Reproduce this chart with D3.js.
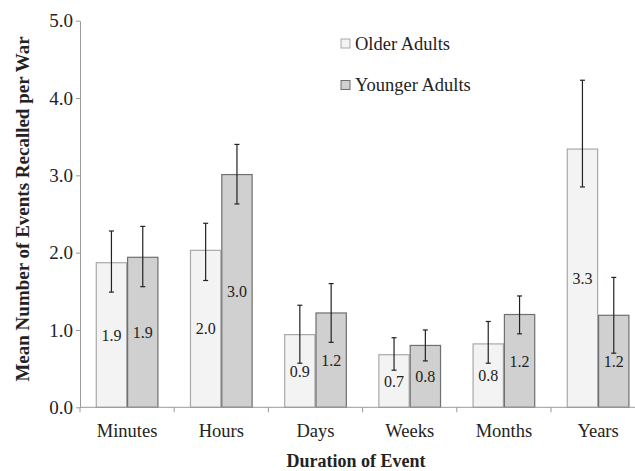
<!DOCTYPE html>
<html>
<head>
<meta charset="utf-8">
<script src="https://cdn.jsdelivr.net/npm/d3@7"></script>
<style>
  html, body { margin: 0; padding: 0; background: #fff; }
  svg text { font-family: "Liberation Serif", "Times New Roman", serif !important; }
</style>
</head>
<body>
<svg id="chart" width="635" height="471"></svg>
<script>
// Event durations and the mean number of events recalled per war
const categories = ["Minutes", "Hours", "Days", "Weeks", "Months", "Years"];
const seriesNames = ["Older Adults", "Younger Adults"];
const olderMeans = [1.87, 2.03, 0.94, 0.68, 0.82, 3.34];
const youngerMeans = [1.94, 3.01, 1.22, 0.80, 1.20, 1.19];
const olderLow = [1.49, 1.64, 0.57, 0.48, 0.57, 2.85];
const olderHigh = [2.28, 2.38, 1.32, 0.90, 1.11, 4.23];
const youngerLow = [1.56, 2.63, 0.84, 0.60, 0.95, 0.70];
const youngerHigh = [2.34, 3.40, 1.60, 1.00, 1.44, 1.68];
const yTicks = [0, 1, 2, 3, 4, 5];

const fills = ["#f3f3f3", "#cfd0cf"];
const strokes = ["#a9a9a9", "#6f6f6f"];

const svg = d3.select("#chart");
const plotLeft = 80, plotTop = 20.7, plotBottom = 407.3, step = 94.2;
const plotRight = plotLeft + step * categories.length;

const y = d3.scaleLinear().domain([0, 5]).range([plotBottom, plotTop]);
const x0 = d3.scaleBand().domain(categories).range([plotLeft, plotRight])
  .paddingInner(0.335).paddingOuter(0.1675);
const x1 = d3.scaleBand().domain(seriesNames).range([0, x0.bandwidth()]);

const rows = categories.map((c, i) => ({
  cat: c,
  values: [
    { s: seriesNames[0], v: olderMeans[i], lo: olderLow[i], hi: olderHigh[i], k: 0 },
    { s: seriesNames[1], v: youngerMeans[i], lo: youngerLow[i], hi: youngerHigh[i], k: 1 }
  ]
}));

// Bars
const groups = svg.append("g").selectAll("g").data(rows).join("g")
  .attr("transform", d => `translate(${x0(d.cat)},0)`);

groups.selectAll("rect").data(d => d.values).join("rect")
  .attr("x", d => x1(d.s) + 0.5)
  .attr("y", d => y(d.v))
  .attr("width", x1.bandwidth() - 1)
  .attr("height", d => y(0) - y(d.v))
  .attr("fill", d => fills[d.k])
  .attr("stroke", d => strokes[d.k])
  .attr("stroke-width", 1.2);

// Value labels at the middle of each bar
groups.selectAll("text.val").data(d => d.values).join("text")
  .attr("class", "val")
  .attr("x", d => x1(d.s) + x1.bandwidth() / 2)
  .attr("y", d => (y(d.v) + y(0)) / 2)
  .attr("dy", "0.35em")
  .attr("text-anchor", "middle")
  .attr("font-size", 16)
  .attr("fill", "#222")
  .text(d => d3.format(".1f")(d.v));

// Error bars
const err = groups.selectAll("g.err").data(d => d.values).join("g").attr("class", "err")
  .attr("stroke", "#222").attr("stroke-width", 1.2);
err.append("line")
  .attr("x1", d => x1(d.s) + x1.bandwidth() / 2)
  .attr("x2", d => x1(d.s) + x1.bandwidth() / 2)
  .attr("y1", d => y(d.hi)).attr("y2", d => y(d.lo));
err.append("line")
  .attr("x1", d => x1(d.s) + x1.bandwidth() / 2 - 2.5)
  .attr("x2", d => x1(d.s) + x1.bandwidth() / 2 + 2.5)
  .attr("y1", d => y(d.hi)).attr("y2", d => y(d.hi));
err.append("line")
  .attr("x1", d => x1(d.s) + x1.bandwidth() / 2 - 2.5)
  .attr("x2", d => x1(d.s) + x1.bandwidth() / 2 + 2.5)
  .attr("y1", d => y(d.lo)).attr("y2", d => y(d.lo));

// Y axis
const yAxis = svg.append("g").attr("transform", `translate(${plotLeft},0)`)
  .call(d3.axisLeft(y).tickValues(yTicks).tickFormat(d3.format(".1f")).tickSize(4).tickSizeOuter(0));
yAxis.attr("font-family", null);
yAxis.selectAll("path, line").attr("stroke", "#9a9a9a");
yAxis.selectAll("text").attr("font-size", 19).attr("fill", "#222");

// X axis with ticks on category boundaries
const xAxis = svg.append("g");
xAxis.append("line")
  .attr("x1", plotLeft).attr("x2", plotRight).attr("y1", plotBottom).attr("y2", plotBottom)
  .attr("stroke", "#9a9a9a");
const boundaries = categories.map(c => x0(c) - x0.step() * x0.paddingInner() / 2);
xAxis.selectAll("line.tick").data(boundaries).join("line").attr("class", "tick")
  .attr("x1", d => d).attr("x2", d => d)
  .attr("y1", plotBottom).attr("y2", plotBottom + 5)
  .attr("stroke", "#9a9a9a");
xAxis.selectAll("text").data(categories).join("text")
  .attr("x", d => x0(d) + x0.bandwidth() / 2)
  .attr("y", plotBottom + 30)
  .attr("text-anchor", "middle")
  .attr("font-size", 18.5)
  .attr("fill", "#222")
  .text(d => d);

// Axis titles
svg.append("text")
  .attr("transform", `translate(28.5, 209) rotate(-90)`)
  .attr("text-anchor", "middle")
  .attr("font-size", 19)
  .attr("font-weight", "bold")
  .attr("fill", "#222")
  .text("Mean Number of Events Recalled per War");
svg.append("text")
  .attr("x", 356).attr("y", 467)
  .attr("text-anchor", "middle")
  .attr("font-size", 18)
  .attr("font-weight", "bold")
  .attr("fill", "#222")
  .text("Duration of Event");

// Legend
const legend = svg.append("g").selectAll("g").data(seriesNames).join("g")
  .attr("transform", (d, i) => `translate(341, ${39 + i * 41.5})`);
legend.append("rect")
  .attr("width", 9).attr("height", 9)
  .attr("fill", (d, i) => fills[i])
  .attr("stroke", (d, i) => strokes[i]);
legend.append("text")
  .attr("x", 14).attr("y", 4.5).attr("dy", "0.35em")
  .attr("font-size", 18.5)
  .attr("fill", "#222")
  .text(d => d);
</script>
</body>
</html>
